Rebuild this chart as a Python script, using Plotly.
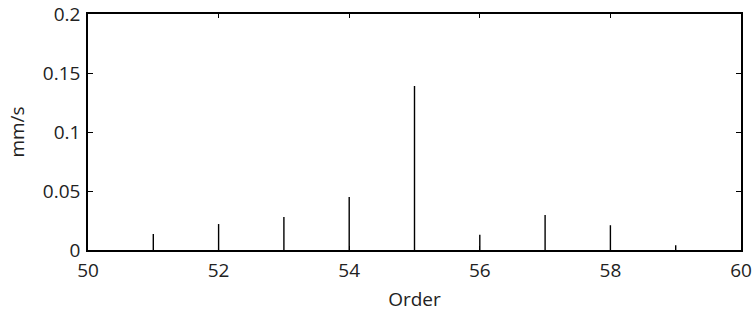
import plotly.graph_objects as go

orders = [51, 52, 53, 54, 55, 56, 57, 58, 59]
amplitude = [0.0136, 0.022, 0.028, 0.045, 0.139, 0.013, 0.0297, 0.021, 0.004]

xs, ys = [], []
for o, a in zip(orders, amplitude):
    xs += [o, o, None]
    ys += [0, a, None]

font = dict(family="Open Sans", size=19, color="#222")

fig = go.Figure()
fig.add_trace(go.Scatter(x=xs, y=ys, mode="lines",
                         line=dict(color="black", width=1.4),
                         hoverinfo="skip", showlegend=False))

fig.update_layout(
    width=756, height=313,
    margin=dict(l=88, r=15, t=14, b=63),
    paper_bgcolor="white", plot_bgcolor="white",
    font=font,
)
fig.update_xaxes(range=[50, 60], tickvals=[50, 52, 54, 56, 58, 60],
                 ticktext=["50", "52", "54", "56", "58", "60"],
                 showgrid=False, zeroline=False, automargin=False,
                 ticklabeloverflow="allow",
                 showline=True, linecolor="black", linewidth=1.5, mirror="ticks",
                 ticks="inside", ticklen=4, tickcolor="black", tickwidth=1,
                 ticklabelstandoff=2,
                 title=dict(text="Order", font=font, standoff=11))
fig.update_yaxes(range=[0, 0.2], tickvals=[0, 0.05, 0.1, 0.15, 0.2],
                 ticktext=["0", "0.05", "0.1", "0.15", "0.2"],
                 showgrid=False, zeroline=False, automargin=False,
                 ticklabeloverflow="allow",
                 showline=True, linecolor="black", linewidth=1.5, mirror="ticks",
                 ticks="inside", ticklen=5, tickcolor="black", tickwidth=1,
                 ticklabelstandoff=2,
                 title=dict(text="mm/s", font=font, standoff=13))

fig.write_html("out.html", config={"displayModeBar": False},
               post_script="document.body.style.margin='0';document.body.style.overflow='hidden';")
